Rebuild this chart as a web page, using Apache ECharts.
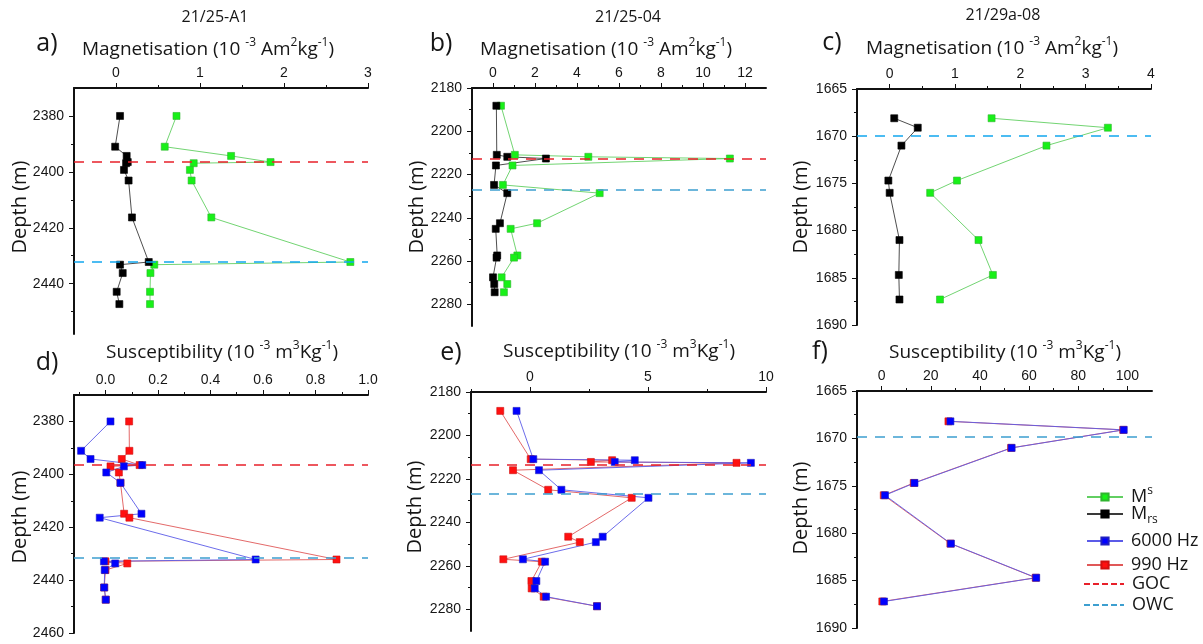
<!DOCTYPE html>
<html><head><meta charset="utf-8">
<script src="https://cdn.jsdelivr.net/npm/echarts@6/dist/echarts.min.js"></script>
<style>html,body{margin:0;padding:0;background:#fff}#c{width:1203px;height:644px}</style>
</head><body><div id="c"></div>
<script>
// ---------- DATA ----------
// Panel a) 21/25-A1 magnetisation
const aDepth = [2380, 2391.0, 2394.3, 2396.5, 2396.9, 2399.3, 2403.1, 2416.3, 2432.25, 2433.2, 2436.2, 2442.9, 2447.3];
const aMs    = [0.72, 0.58, 1.37, 1.84, 0.925, 0.88, 0.90, 1.135, 2.79, 0.456, 0.41, 0.405, 0.405];
const aMrs   = [0.048, -0.01, 0.127, 0.14, 0.12, 0.095, 0.15, 0.19, 0.39, 0.048, 0.08, 0.008, 0.04];
// Panel b) 21/25-04 magnetisation
const bDepth = [2188.2, 2210.9, 2211.8, 2212.6, 2215.8, 2224.8, 2228.6, 2242.5, 2245.1, 2257.4, 2258.4, 2267.5, 2270.6, 2274.4];
const bMs    = [0.38, 1.04, 4.54, 11.28, 0.93, 0.47, 5.08, 2.1, 0.84, 1.16, 1.0, 0.41, 0.68, 0.52];
const bMrs   = [0.16, 0.18, 0.68, 2.52, 0.14, 0.05, 0.68, 0.33, 0.13, 0.2, 0.17, 0.0, 0.06, 0.08];
// Panel c) 21/29a-08 magnetisation
const cDepth = [1668.1, 1669.1, 1671.0, 1674.7, 1676.0, 1681.0, 1684.7, 1687.3];
const cMs    = [1.56, 3.34, 2.40, 1.03, 0.62, 1.36, 1.58, 0.77];
const cMrs   = [0.07, 0.43, 0.18, -0.02, 0.0, 0.15, 0.14, 0.15];
// Panel d) 21/25-A1 susceptibility
const dDepth = [2380, 2391.1, 2394.2, 2396.5, 2397.0, 2399.3, 2403.2, 2414.9, 2416.4, 2432.2, 2432.9, 2433.7, 2436.2, 2442.8, 2447.4];
const d6000  = [0.019, -0.093, -0.057, 0.14, 0.07, 0.003, 0.057, 0.137, -0.022, 0.572, -0.006, 0.037, -0.003, -0.005, 0.001];
const d990   = [0.090, 0.091, 0.062, 0.13, 0.019, 0.051, 0.057, 0.071, 0.091, 0.88, 0.0, 0.083, 0.0, -0.005, 0.001];
// Panel e) 21/25-04 susceptibility
const eDepth = [2188.7, 2210.9, 2211.4, 2212.2, 2212.6, 2216.0, 2225.0, 2228.7, 2246.6, 2249.1, 2257.0, 2258.1, 2267.0, 2270.4, 2274.2, 2278.6];
const e6000  = [-0.57, 0.14, 4.44, 3.59, 9.36, 0.38, 1.33, 5.02, 3.08, 2.79, -0.3, 0.64, 0.27, 0.2, 0.68, 2.84];
const e990   = [-1.26, 0.03, 3.48, 2.58, 8.75, -0.72, 0.77, 4.31, 1.62, 2.11, -1.13, 0.5, 0.06, 0.07, 0.58, 2.84];
// Panel f) 21/29a-08 susceptibility
const fDepth = [1668.2, 1669.1, 1671.0, 1674.7, 1676.0, 1681.1, 1684.7, 1687.2];
const f6000  = [28.0, 98.5, 52.9, 13.4, 1.4, 28.2, 62.9, 1.0];
const f990   = [27.2, 98.3, 52.7, 13.1, 0.9, 28.0, 62.7, 0.3];
// Contacts (depth, m)
const gocDepth = {a: 2396.5, b: 2212.6, d: 2396.5, e: 2213.3};
const owcDepth = {a: 2432.3, b: 2226.9, c: 1670.0, d: 2431.7, e: 2227.0, f: 1669.8};

// ---------- TICKS / LABELS ----------
const aXTicks = [0, 1, 2, 3],                 aXMinor = [0.5, 1.5, 2.5];
const aYTicks = [2380, 2400, 2420, 2440],      aYMinor = [2390, 2410, 2430, 2450];
const bXTicks = [0, 2, 4, 6, 8, 10, 12],       bXMinor = [1, 3, 5, 7, 9, 11];
const bYTicks = [2180, 2200, 2220, 2240, 2260, 2280], bYMinor = [2190, 2210, 2230, 2250, 2270];
const cXTicks = [0, 1, 2, 3, 4],               cXMinor = [0.5, 1.5, 2.5, 3.5];
const cYTicks = [1665, 1670, 1675, 1680, 1685, 1690], cYMinor = [1667.5, 1672.5, 1677.5, 1682.5, 1687.5];
const dXTicks = [0, 0.2, 0.4, 0.6, 0.8, 1.0], dXMinor = [-0.1, 0.1, 0.3, 0.5, 0.7, 0.9];
const dXLabels = ['0.0', '0.2', '0.4', '0.6', '0.8', '1.0'];
const dYTicks = [2380, 2400, 2420, 2440, 2460], dYMinor = [2390, 2410, 2430, 2450];
const eXTicks = [0, 5, 10],                    eXMinor = [-2.5, 2.5, 7.5];
const eYTicks = bYTicks,                       eYMinor = bYMinor;
const fXTicks = [0, 20, 40, 60, 80, 100],      fXMinor = [10, 30, 50, 70, 90];
const fYTicks = cYTicks,                       fYMinor = cYMinor;

const titles = ['21/25-A1', '21/25-04', '21/29a-08'];
const letters = ['a)', 'b)', 'c)', 'd)', 'e)', 'f)'];

// ---------- LAYOUT ----------
const TXT = '#161616';
const SANS = "'Open Sans', 'Liberation Sans', sans-serif";
const ARIAL = "'Liberation Sans', Arial, sans-serif";
const panels = [
  {id:'a', grid:{left:74, top:88, width:294, height:246}, x:[-0.5,3], y:[2370,2458], xt:aXTicks, xm:aXMinor, yt:aYTicks, ym:aYMinor},
  {id:'b', grid:{left:472, top:88, width:294, height:238}, x:[-1,13], y:[2180,2290], xt:bXTicks, xm:bXMinor, yt:bYTicks, ym:bYMinor},
  {id:'c', grid:{left:857, top:89, width:294, height:236}, x:[-0.5,4], y:[1665,1690], xt:cXTicks, xm:cXMinor, yt:cYTicks, ym:cYMinor},
  {id:'d', grid:{left:74, top:395, width:294, height:238}, x:[-0.12,1.0], y:[2370,2460], xt:dXTicks, xm:dXMinor, yt:dYTicks, ym:dYMinor, xl:dXLabels},
  {id:'e', grid:{left:471, top:392, width:295, height:239}, x:[-2.5,10], y:[2180,2290], xt:eXTicks, xm:eXMinor, yt:eYTicks, ym:eYMinor},
  {id:'f', grid:{left:857, top:391, width:295, height:237}, x:[-10,110], y:[1665,1690], xt:fXTicks, xm:fXMinor, yt:fYTicks, ym:fYMinor}
];

const grid = [], xAxis = [], yAxis = [];
function labelFor(ticks, labels) {
  return function (v) {
    let bi = 0, bd = Infinity;
    ticks.forEach((t, i) => { const d = Math.abs(t - v); if (d < bd) { bd = d; bi = i; } });
    if (bd > 1e-6 * (Math.abs(v) + 1)) return '';
    return labels ? labels[bi] : String(ticks[bi]);
  };
}
panels.forEach((p, gi) => {
  grid.push(Object.assign({outerBoundsMode: 'none', containLabel: false}, p.grid));
  const axCommon = {gridIndex: gi, type: 'value', splitLine: {show: false}};
  xAxis.push(Object.assign({}, axCommon, {
    position: 'top', min: p.x[0], max: p.x[1],
    axisLine: {show: true, onZero: false, lineStyle: {color: '#111', width: 2}},
    axisTick: {show: true, customValues: p.xt, length: 5, lineStyle: {color: '#111', width: 1}},
    axisLabel: {show: true, customValues: p.xt, formatter: labelFor(p.xt, p.xl), margin: 8, color: TXT, fontSize: 14, fontFamily: ARIAL, showMinLabel: true, showMaxLabel: true}
  }));
  xAxis.push(Object.assign({}, axCommon, {
    position: 'top', min: p.x[0], max: p.x[1],
    axisLine: {show: false, onZero: false},
    axisTick: {show: true, customValues: p.xm, length: 3, lineStyle: {color: '#111', width: 1}},
    axisLabel: {show: false}
  }));
  yAxis.push(Object.assign({}, axCommon, {
    position: 'left', inverse: true, min: p.y[0], max: p.y[1],
    axisLine: {show: true, onZero: false, lineStyle: {color: '#111', width: 2}},
    axisTick: {show: true, customValues: p.yt, length: 5, lineStyle: {color: '#111', width: 1}},
    axisLabel: {show: true, customValues: p.yt, formatter: labelFor(p.yt), margin: 10, color: TXT, fontSize: 14, fontFamily: ARIAL, showMinLabel: true, showMaxLabel: true}
  }));
  yAxis.push(Object.assign({}, axCommon, {
    position: 'left', inverse: true, min: p.y[0], max: p.y[1],
    axisLine: {show: false, onZero: false},
    axisTick: {show: true, customValues: p.ym, length: 3, lineStyle: {color: '#111', width: 1}},
    axisLabel: {show: false}
  }));
});

const STY = {
  'Ms':      {line: '#62cf62', mark: '#18f018', border: '#2fb52f'},
  'Mrs':     {line: '#3a3a3a', mark: '#000000', border: '#000000'},
  '6000 Hz': {line: '#5b5be8', mark: '#0000ff', border: '#2020c0'},
  '990 Hz':  {line: '#e05858', mark: '#ff1010', border: '#d01010'}
};
const GOC_COLOR = '#e8202a';
const OWC_BRIGHT = '#12a6ee', OWC_MUTED = '#3d9fd0';

function pts(xs, ds) { return xs.map((v, i) => [v, ds[i]]); }
function dataSeries(name, gi, xs, ds) {
  const s = STY[name];
  return {
    name: name, type: 'line', xAxisIndex: gi * 2, yAxisIndex: gi * 2,
    data: pts(xs, ds), symbol: 'rect', symbolSize: 7, showSymbol: true,
    lineStyle: {color: s.line, width: 0.9},
    itemStyle: {color: s.mark, borderColor: s.border, borderWidth: 0.6},
    emphasis: {disabled: true}, animation: false, clip: false, z: 3
  };
}
function contactSeries(name, gi, depth, color) {
  return {
    name: name, type: 'line', xAxisIndex: gi * 2, yAxisIndex: gi * 2, data: [],
    symbol: 'none', lineStyle: {color: color, width: 2, type: [7, 4]},
    itemStyle: {color: color},
    markLine: {
      silent: true, symbol: ['none', 'none'], label: {show: false}, animation: false,
      lineStyle: {color: color, width: 1.6, type: [10, 8]},
      data: [{yAxis: depth}]
    },
    animation: false, z: 2
  };
}

const series = [
  contactSeries('GOC', 0, gocDepth.a, GOC_COLOR),
  contactSeries('OWC', 0, owcDepth.a, OWC_BRIGHT),
  dataSeries('Ms', 0, aMs, aDepth),
  dataSeries('Mrs', 0, aMrs, aDepth),
  contactSeries('GOC', 1, gocDepth.b, GOC_COLOR),
  contactSeries('OWC', 1, owcDepth.b, OWC_MUTED),
  dataSeries('Ms', 1, bMs, bDepth),
  dataSeries('Mrs', 1, bMrs, bDepth),
  contactSeries('OWC', 2, owcDepth.c, OWC_BRIGHT),
  dataSeries('Ms', 2, cMs, cDepth),
  dataSeries('Mrs', 2, cMrs, cDepth),
  contactSeries('GOC', 3, gocDepth.d, GOC_COLOR),
  contactSeries('OWC', 3, owcDepth.d, OWC_MUTED),
  dataSeries('990 Hz', 3, d990, dDepth),
  dataSeries('6000 Hz', 3, d6000, dDepth),
  contactSeries('GOC', 4, gocDepth.e, GOC_COLOR),
  contactSeries('OWC', 4, owcDepth.e, OWC_MUTED),
  dataSeries('990 Hz', 4, e990, eDepth),
  dataSeries('6000 Hz', 4, e6000, eDepth),
  contactSeries('OWC', 5, owcDepth.f, OWC_MUTED),
  dataSeries('990 Hz', 5, f990, fDepth),
  dataSeries('6000 Hz', 5, f6000, fDepth)
];

// ---------- LEGEND ----------
const HIDE_SYM = {color: 'rgba(0,0,0,0)', borderColor: 'rgba(0,0,0,0)', borderWidth: 0};
const legendItems = [
  {name: 'Ms', cy: 497, text: '{b|M}{sup|s}'},
  {name: 'Mrs', cy: 517, text: '{b|M}{sub|rs}'},
  {name: '6000 Hz', cy: 544, text: '{b|6000 Hz}'},
  {name: '990 Hz', cy: 568, text: '{b|990 Hz}'},
  {name: 'GOC', cy: 587, text: '{b|GOC}', lineStyle: {color: GOC_COLOR, type: [6, 3], width: 2}, width: 40, left: 1083},
  {name: 'OWC', cy: 608, text: '{b|OWC}', lineStyle: {color: OWC_MUTED, type: [6, 3], width: 2}, width: 40, left: 1083}
];
const legend = legendItems.map(it => ({
  show: true, orient: 'vertical', left: it.left || 1086, top: it.cy - 12, padding: 0,
  itemWidth: it.width || 36, itemHeight: 9, itemGap: 0, selectedMode: false,
  data: [it.lineStyle ? {name: it.name, lineStyle: it.lineStyle, itemStyle: HIDE_SYM} : {name: it.name}],
  formatter: () => it.text,
  textStyle: {
    color: TXT, padding: [0, 0, 0, 3],
    rich: {
      b: {fontSize: 18, fontFamily: SANS, lineHeight: 24, color: TXT},
      sup: {fontSize: 12, fontFamily: SANS, lineHeight: 10, verticalAlign: 'top', color: TXT},
      sub: {fontSize: 12, fontFamily: SANS, lineHeight: 6, verticalAlign: 'bottom', color: TXT}
    }
  }
}));

// ---------- TEXT ----------
const richAxis = {
  n: {fontSize: 19, fontFamily: SANS, lineHeight: 26, color: TXT},
  s: {fontSize: 12, fontFamily: SANS, lineHeight: 12, verticalAlign: 'top', color: TXT}
};
const magText = '{n|Magnetisation (10 }{s|-3}{n| Am}{s|2}{n|kg}{s|-1}{n|)}';
const susText = '{n|Susceptibility (10 }{s|-3}{n| m}{s|3}{n|Kg}{s|-1}{n|)}';
function txt(x, y, text, size) {
  return {type: 'text', x: x, y: y, silent: true,
    style: {text: text, fontSize: size, fontFamily: SANS, fill: TXT, align: 'center', verticalAlign: 'middle'}};
}
function richTxt(x, y, text) {
  return {type: 'text', x: x, y: y, silent: true,
    style: {text: text, rich: richAxis, fill: TXT, align: 'center', verticalAlign: 'middle', fontSize: 19, fontFamily: SANS}};
}
function depthTxt(x, y) {
  return {type: 'text', x: x, y: y, rotation: Math.PI / 2, silent: true,
    style: {text: 'Depth (m)', fontSize: 20, fontFamily: SANS, fill: TXT, align: 'center', verticalAlign: 'middle'}};
}
const graphic = [
  txt(215, 17, titles[0], 16), txt(628, 17, titles[1], 16), txt(1003, 15, titles[2], 16),
  txt(47, 44, letters[0], 25), txt(441, 44, letters[1], 25), txt(832, 43, letters[2], 25),
  txt(47, 363, letters[3], 25), txt(451, 353, letters[4], 25), txt(820, 352, letters[5], 25),
  richTxt(208, 50, magText), richTxt(606, 50, magText), richTxt(992, 49, magText),
  richTxt(222, 353, susText), richTxt(619, 352, susText), richTxt(1005, 353, susText),
  depthTxt(20, 207), depthTxt(417, 207), depthTxt(801, 207),
  depthTxt(20, 517), depthTxt(415, 507), depthTxt(801, 508)
];

const chart = echarts.init(document.getElementById('c'), null, {renderer: 'canvas'});
chart.setOption({
  backgroundColor: '#ffffff',
  animation: false,
  grid: grid, xAxis: xAxis, yAxis: yAxis,
  legend: legend, series: series, graphic: graphic
});
</script></body></html>
